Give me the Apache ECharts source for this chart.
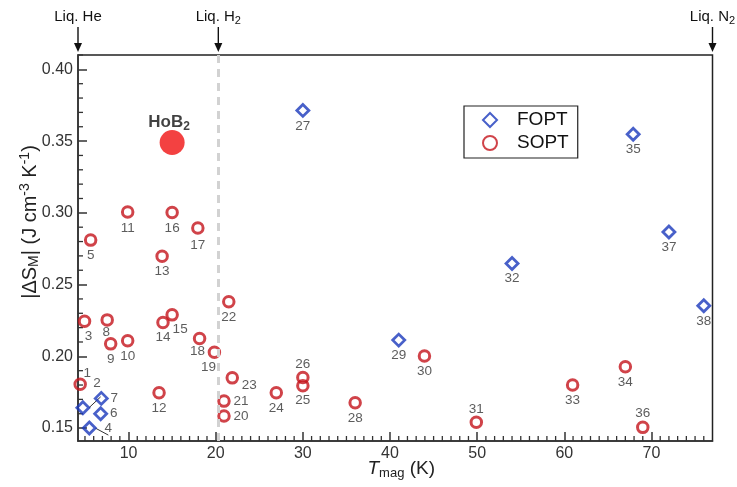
<!DOCTYPE html>
<html><head><meta charset="utf-8">
<script src="https://cdn.jsdelivr.net/npm/echarts@6/dist/echarts.min.js"></script>
<style>html,body{margin:0;padding:0;background:#fff}#c{width:737px;height:487px}</style>
</head><body><div id="c"></div>
<script>
// ---- data ----
const foptIds = ['2','4','6','7','27','29','32','35','37','38'];
const foptT   = [4.76, 5.5, 6.8, 6.87, 30, 41, 54, 67.9, 72, 76];
const foptS   = [0.1641, 0.150, 0.160, 0.1707, 0.3714, 0.2113, 0.2647, 0.3547, 0.2867, 0.2352];

const soptIds = ['1','3','5','8','9','10','11','12','13','14','15','16','17','18','19','20','21','22','23','24','25','26','28','30','31','33','34','36'];
const soptT   = [4.45, 4.95, 5.65, 7.55, 7.95, 9.9, 9.9, 13.5, 13.85, 13.95, 15.0, 15.0, 17.95, 18.15, 19.85, 20.95, 20.95, 21.5, 21.9, 26.95, 30, 30, 36, 43.95, 49.9, 60.95, 67, 69];
const soptS   = [0.1805, 0.2245, 0.281, 0.2254, 0.2087, 0.2108, 0.3006, 0.1746, 0.2698, 0.2236, 0.2289, 0.3002, 0.2895, 0.2125, 0.2029, 0.1584, 0.1688, 0.238, 0.185, 0.1746, 0.1795, 0.1853, 0.1676, 0.2003, 0.154, 0.180, 0.1927, 0.1505];

const hob2T = [15.0];
const hob2S = [0.349];

const refT = [4.2, 20.3, 77];
const refLabels = ['Liq. He', 'Liq. H{s|2}', 'Liq. N{s|2}'];

const xTickValues = [10, 20, 30, 40, 50, 60, 70];
const yTickValues = [0.15, 0.20, 0.25, 0.30, 0.35, 0.40];

const xMin = 4.2, xMax = 77, yMin = 0.141, yMax = 0.41;

// ---- style helpers ----
const FONT = 'Liberation Sans, Arial, Helvetica, sans-serif';
const labelOffsets = {
  '1':[7,-11], '2':[14,-25], '4':[19,0], '6':[13,0], '7':[13,0],
  '3':[4,15], '8':[-1,12], '15':[8,14], '18':[-2,13], '19':[-6,15],
  '20':[17,0], '21':[17,0], '23':[17,7], '26':[0,-13], '31':[0,-13], '36':[0,-14],
  '11':[0,16], '16':[0,16], '17':[0,17], '27':[0,16]
};
const leaderIds = ['2','4'];
const xMinor = []; for (let v = 5; v <= 76; v++) if (v % 10) xMinor.push(v);
const yMinor = []; for (let k = 15; k <= 41; k++) if (k % 5) yMinor.push(+(k/100).toFixed(2));

function mkData(ids, xs, ys) {
  return ids.map((id, i) => {
    const item = { name: id, value: [xs[i], ys[i]], label: { offset: labelOffsets[id] || [0, 15] } };
    if (leaderIds.indexOf(id) >= 0) item.labelLine = { show: true, lineStyle: { color: '#333', width: 1 } };
    return item;
  });
}
const ptLabel = { show: true, position: 'inside', formatter: '{b}', color: '#333', fontSize: 13.5, fontFamily: FONT };

const chart = echarts.init(document.getElementById('c'), null, { renderer: 'canvas' });
const axisLineStyle = { color: '#333', width: 1.5 };

function minorTickSeries(vals, dir) {
  return {
    type: 'custom', silent: true, clip: false, z: 1,
    data: vals.map(v => dir === 'x' ? [v, yMin] : [xMin, v]),
    renderItem: (params, api) => {
      const p = api.coord([api.value(0), api.value(1)]);
      const shape = dir === 'x' ? { x1: p[0], y1: p[1], x2: p[0], y2: p[1] - 5 }
                                : { x1: p[0], y1: p[1], x2: p[0] + 5, y2: p[1] };
      return { type: 'line', shape: shape, style: { stroke: '#333', lineWidth: 1.3 } };
    }
  };
}

chart.setOption({
  animation: false,
  backgroundColor: '#fff',
  textStyle: { fontFamily: FONT },
  grid: { left: 78, right: 24.5, top: 55, bottom: 46, show: true, borderColor: '#222', borderWidth: 1.5,
          backgroundColor: 'transparent', containLabel: false, outerBoundsMode: 'none' },
  legend: {
    data: ['FOPT', 'SOPT'], orient: 'vertical', left: 464, top: 106,
    padding: [4, 9, 5, 18], itemGap: 3, itemWidth: 14, itemHeight: 14,
    borderColor: '#222', borderWidth: 1.2, backgroundColor: '#fff',
    textStyle: { fontSize: 19, color: '#111', fontFamily: FONT, lineHeight: 20, padding: [0, 0, 0, 15] }
  },
  xAxis: {
    type: 'value', min: xMin, max: xMax, position: 'bottom',
    axisLine: { show: true, lineStyle: axisLineStyle },
    axisTick: { show: true, inside: true, length: 9, customValues: xTickValues, lineStyle: axisLineStyle },
    axisLabel: { customValues: xTickValues, fontSize: 16, color: '#333', margin: 5, fontFamily: FONT, formatter: v => String(Math.round(v)) },
    splitLine: { show: false },
    name: '{i|T}{s|mag} (K)', nameLocation: 'middle', nameGap: 16, nameMoveOverlap: false,
    nameTextStyle: { fontSize: 19, color: '#222', fontFamily: FONT, padding: [0, 0, 0, 12],
      rich: { i: { fontSize: 19, fontStyle: 'italic', color: '#222', fontFamily: FONT },
              s: { fontSize: 13, color: '#222', fontFamily: FONT, padding: [10, 0, 0, 0] } } }
  },
  yAxis: {
    type: 'value', min: yMin, max: yMax, position: 'left',
    axisLine: { show: true, lineStyle: axisLineStyle },
    axisTick: { show: true, inside: true, length: 9, customValues: yTickValues, lineStyle: axisLineStyle },
    axisLabel: { customValues: yTickValues, fontSize: 16, color: '#333', margin: 5, fontFamily: FONT, formatter: v => v.toFixed(2) },
    splitLine: { show: false },
    name: '|ΔS{s|M}| (J cm{p|-3} K{p|-1})', nameLocation: 'middle', nameGap: 36, nameRotate: 90, nameMoveOverlap: false,
    nameTextStyle: { fontSize: 20, color: '#222', fontFamily: FONT, padding: [0, 0, 0, 52],
      rich: { s: { fontSize: 14, color: '#222', fontFamily: FONT, padding: [9, 0, 0, 0] },
              p: { fontSize: 14, color: '#222', fontFamily: FONT, padding: [0, 0, 10, 0] } } }
  },
  series: [{
    name: 'SOPT', type: 'scatter', symbol: 'circle', symbolSize: 10.5,
    itemStyle: { color: 'rgba(255,255,255,0)', borderColor: '#c4141c', borderWidth: 3 },
    label: ptLabel, data: mkData(soptIds, soptT, soptS), z: 3,
    markLine: { silent: true, symbol: ['none', 'none'], label: { show: false },
      lineStyle: { color: '#d2d2d2', width: 3, type: [8, 6] },
      data: [{ xAxis: refT[1] }] }
  }, {
    name: 'FOPT', type: 'scatter', symbol: 'diamond', symbolSize: 12,
    itemStyle: { color: 'rgba(255,255,255,0)', borderColor: '#1a38bb', borderWidth: 2.8 },
    label: ptLabel, data: mkData(foptIds, foptT, foptS), z: 4
  }, {
    name: 'HoB2', type: 'scatter', symbol: 'circle', symbolSize: 25,
    itemStyle: { color: '#f01212' },
    label: { show: true, position: 'top', distance: 2, offset: [-3, 5], formatter: 'HoB{s|2}', fontSize: 17, fontWeight: 'bold', color: '#111', fontFamily: FONT,
      rich: { s: { fontSize: 12, fontWeight: 'bold', color: '#111', fontFamily: FONT, padding: [9, 0, 0, 0] } } },
    data: hob2T.map((t, i) => [t, hob2S[i]]), z: 5
  }, {
    name: 'refs', type: 'custom', silent: true, clip: false,
    data: refT.map(t => [t, yMax]),
    renderItem: (params, api) => {
      const p = api.coord([api.value(0), api.value(1)]);
      const x = p[0], y = p[1];
      return { type: 'group', children: [
        { type: 'line', shape: { x1: x, y1: y - 28, x2: x, y2: y - 10 }, style: { stroke: '#111', lineWidth: 1.4 } },
        { type: 'polygon', shape: { points: [[x - 4, y - 12], [x + 4, y - 12], [x, y - 3]] }, style: { fill: '#111' } },
        { type: 'text', x: x, y: y - 38, style: { text: refLabels[params.dataIndex], align: 'center', verticalAlign: 'middle',
            fontSize: 15, fontFamily: FONT, fill: '#111',
            rich: { s: { fontSize: 11, fontFamily: FONT, fill: '#111', padding: [8, 0, 0, 0] } } } }
      ] };
    }
  },
  minorTickSeries(xMinor, 'x'),
  minorTickSeries(yMinor, 'y')
  ]
});
</script>
</body></html>
